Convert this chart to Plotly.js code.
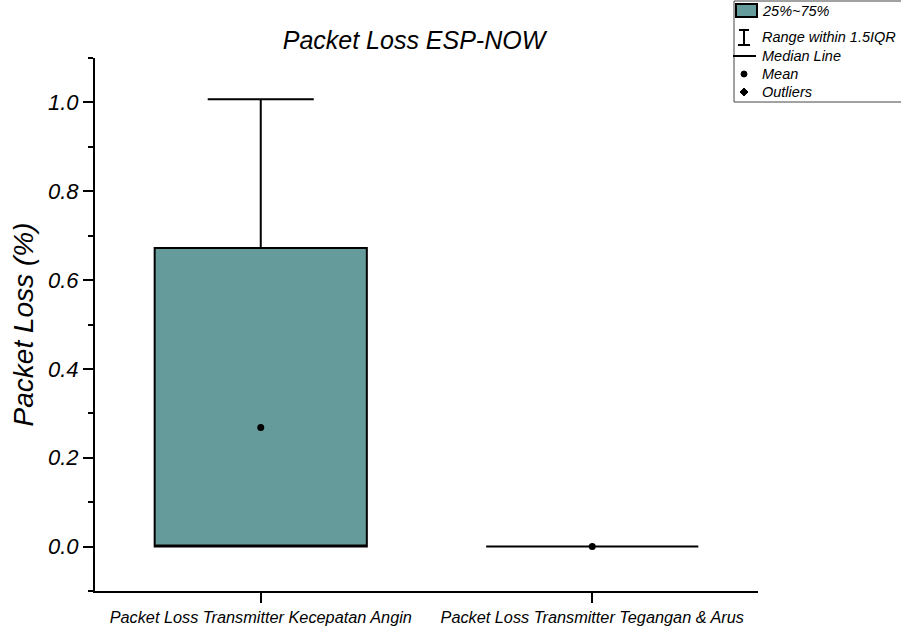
<!DOCTYPE html>
<html>
<head>
<meta charset="utf-8">
<script src="https://cdn.plot.ly/plotly-3.0.1.min.js"></script>
<style>html,body{margin:0;padding:0;background:#fff;}#chart{width:901px;height:626px;}</style>
</head>
<body>
<div id="chart"></div>
<script>
// ---- data ----
const categories = ['Packet Loss Transmitter Kecepatan Angin', 'Packet Loss Transmitter Tegangan & Arus'];
const q1Values = [0, 0];
const medianValues = [0, 0];
const q3Values = [0.672, 0];
const lowerFenceValues = [0, 0];
const upperFenceValues = [1.007, 0];
const meanValues = [0.268, 0];
const yTickValues = [0, 0.2, 0.4, 0.6, 0.8, 1.0];
const yTickLabels = ['0.0', '0.2', '0.4', '0.6', '0.8', '1.0'];
const legendLabels = ['25%~75%', 'Range within 1.5IQR', 'Median Line', 'Mean', 'Outliers'];

const W = 901, H = 626;
const M = {l: 95, r: 143, t: 58, b: 35};
const PW = W - M.l - M.r, PH = H - M.t - M.b;
const px = x => (x - M.l) / PW;
const py = y => (H - M.b - y) / PH;

const teal = 'rgb(101,156,155)';
const FONT = 'Liberation Sans, Arial, sans-serif';

const traces = [
  {
    type: 'box',
    x: categories,
    q1: q1Values,
    median: medianValues,
    q3: q3Values,
    lowerfence: lowerFenceValues,
    upperfence: upperFenceValues,
    boxpoints: false,
    fillcolor: teal,
    line: {color: 'black', width: 2},
    whiskerwidth: 0.5,
    width: 0.64,
    showlegend: false,
    hoverinfo: 'skip'
  },
  {
    type: 'scatter',
    mode: 'markers',
    x: categories,
    y: meanValues,
    marker: {color: 'black', size: 7, symbol: 'circle'},
    showlegend: false,
    hoverinfo: 'skip'
  }
];

// legend decorations (pixel positions converted to paper coords)
const rowY = [11, 37, 56, 74, 92];
const shapes = [
  {type: 'rect', xref: 'paper', yref: 'paper', x0: px(734), x1: px(910), y0: py(1), y1: py(102),
   line: {color: '#444', width: 1}, fillcolor: 'white', layer: 'below'},
  {type: 'rect', xref: 'paper', yref: 'paper', x0: px(736), x1: px(757), y0: py(4), y1: py(17),
   line: {color: 'black', width: 2}, fillcolor: teal},
  {type: 'line', xref: 'paper', yref: 'paper', x0: px(744), x1: px(744), y0: py(30), y1: py(45), line: {color: 'black', width: 2}},
  {type: 'line', xref: 'paper', yref: 'paper', x0: px(739), x1: px(749), y0: py(30), y1: py(30), line: {color: 'black', width: 2}},
  {type: 'line', xref: 'paper', yref: 'paper', x0: px(738), x1: px(750), y0: py(45), y1: py(45), line: {color: 'black', width: 2}},
  {type: 'line', xref: 'paper', yref: 'paper', x0: px(733), x1: px(756), y0: py(56), y1: py(56), line: {color: 'black', width: 2}},
  {type: 'circle', xref: 'paper', yref: 'paper', x0: px(741), x1: px(747), y0: py(71), y1: py(77), line: {color: 'black', width: 1}, fillcolor: 'black'},
  {type: 'path', xref: 'paper', yref: 'paper',
   path: `M ${px(744)} ${py(88)} L ${px(748)} ${py(92)} L ${px(744)} ${py(96)} L ${px(740)} ${py(92)} Z`,
   line: {color: 'black', width: 1}, fillcolor: 'black'}
];

const annotations = legendLabels.map((t, i) => ({
  xref: 'paper', yref: 'paper', x: px(760), y: py(rowY[i]), xanchor: 'left', yanchor: 'middle',
  text: t, showarrow: false, font: {family: FONT, size: 14.5, style: 'italic', color: 'black'}
}));

const layout = {
  width: W, height: H,
  margin: M,
  paper_bgcolor: 'white', plot_bgcolor: 'white',
  showlegend: false,
  title: {text: 'Packet Loss ESP-NOW', x: px(414), xref: 'paper', xanchor: 'center', y: 1 - 40 / H, yanchor: 'middle',
          font: {family: FONT, size: 25, style: 'italic', color: 'black'}},
  xaxis: {
    type: 'category', range: [-0.5, 1.5],
    showline: true, linecolor: 'black', linewidth: 2,
    ticks: 'outside', ticklen: 10, tickwidth: 2, tickcolor: 'black',
    showgrid: false, zeroline: false,
    tickfont: {family: FONT, size: 16.3, style: 'italic', color: 'black'}
  },
  yaxis: {
    range: [-0.1, 1.1],
    showline: true, linecolor: 'black', linewidth: 2,
    ticks: 'outside', ticklen: 10, tickwidth: 2, tickcolor: 'black',
    tickvals: yTickValues, ticktext: yTickLabels,
    minor: {dtick: 0.1, tick0: 0, ticks: 'outside', ticklen: 5, tickwidth: 2, tickcolor: 'black', showgrid: false},
    showgrid: false, zeroline: false,
    tickfont: {family: FONT, size: 22, style: 'italic', color: 'black'},
    title: {text: 'Packet Loss (%)', standoff: 6, font: {family: FONT, size: 28, style: 'italic', color: 'black'}}
  },
  shapes: shapes,
  annotations: annotations
};

Plotly.newPlot('chart', traces, layout, {displayModeBar: false, staticPlot: true});
</script>
</body>
</html>
